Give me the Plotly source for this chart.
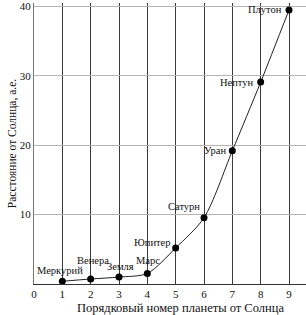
import plotly.graph_objects as go

planets = ["Меркурий", "Венера", "Земля", "Марс", "Юпитер", "Сатурн", "Уран", "Нептун", "Плутон"]
order = [1, 2, 3, 4, 5, 6, 7, 8, 9]
dist = [0.39, 0.72, 1.0, 1.52, 5.2, 9.54, 19.2, 29.1, 39.5]
x_ticks = [0, 1, 2, 3, 4, 5, 6, 7, 8, 9]
y_ticks = [10, 20, 30, 40]

# label offsets in pixels (xshift, yshift, xanchor)
label_pos = [
    (-2, 11, "center"), (2, 19, "center"), (1, 11, "center"), (1, 13, "center"),
    (-3, 5, "right"), (-2, 11, "right"), (-4, 0, "right"), (-5, 0, "right"), (-5, 0, "right"),
]

FONT = "Liberation Serif"

fig = go.Figure()
fig.add_trace(go.Scatter(
    x=order, y=dist, mode="lines+markers",
    line=dict(color="#222", width=1, shape="spline", smoothing=0.8),
    marker=dict(color="black", size=7),
    showlegend=False, hoverinfo="skip",
))

for name, xv, yv, (dx, dy, anc) in zip(planets, order, dist, label_pos):
    fig.add_annotation(x=xv, y=yv, text=name, showarrow=False,
                       xshift=dx, yshift=dy, xanchor=anc, yanchor="middle",
                       font=dict(family=FONT, size=10.5, color="#111"))

fig.add_annotation(x=0.54, y=0, xref="paper", yref="paper", yshift=-24,
                   text="Порядковый номер планеты от Солнца", showarrow=False,
                   xanchor="center", yanchor="middle",
                   font=dict(family=FONT, size=12.5, color="#111"))

fig.update_layout(
    width=306, height=315,
    margin=dict(l=34, r=0, t=3, b=31),
    paper_bgcolor="white", plot_bgcolor="white",
    font=dict(family=FONT, size=11, color="#111"),
)
fig.update_xaxes(
    range=[0, 9.6], tickvals=x_ticks, ticktext=[str(v) for v in x_ticks],
    showgrid=True, gridcolor="#3a3a3a", gridwidth=1.3, zeroline=False,
    showline=True, linecolor="#333", linewidth=1, ticks="",
    tickfont=dict(family=FONT, size=11),
)
fig.update_yaxes(
    range=[0, 40.5], tickvals=y_ticks,
    showgrid=True, gridcolor="#b5b5b5", gridwidth=1, zeroline=False,
    showline=True, linecolor="#777", linewidth=1, ticks="",
    title=dict(text="Расстояние от Солнца, а.е.", standoff=0,
               font=dict(family=FONT, size=11.5)),
    tickfont=dict(family=FONT, size=11),
)

fig.write_html("out.html")
